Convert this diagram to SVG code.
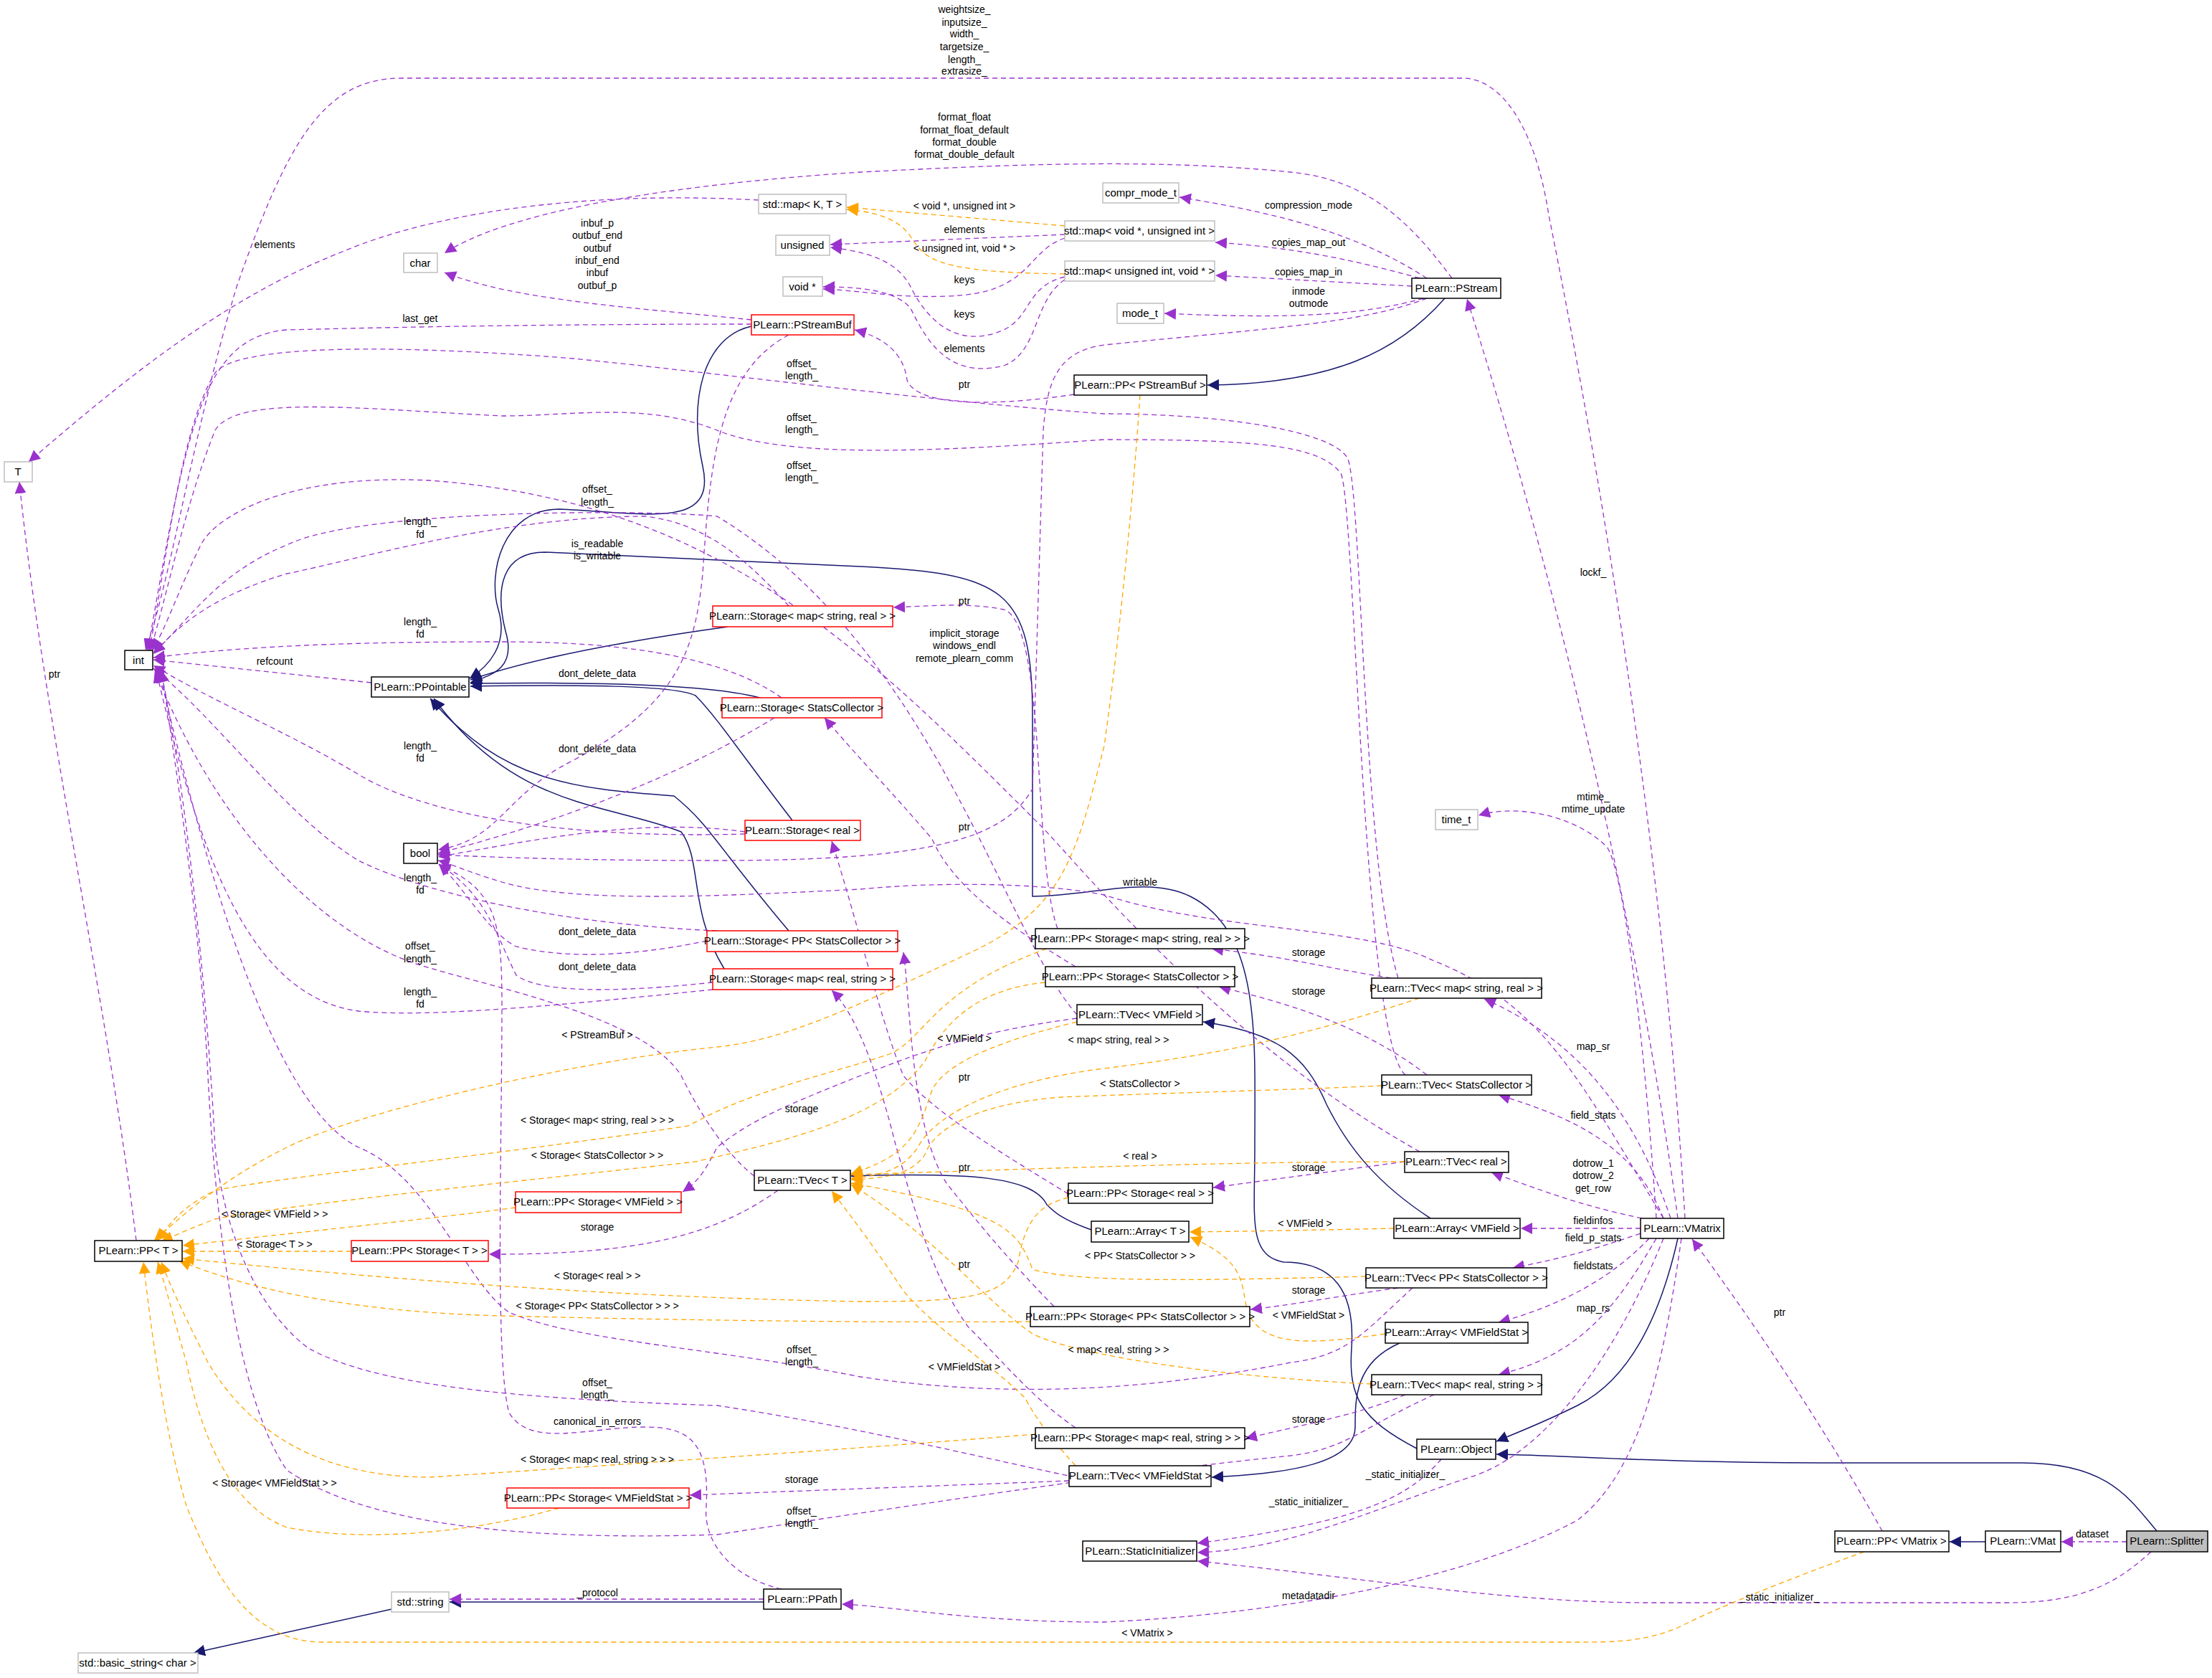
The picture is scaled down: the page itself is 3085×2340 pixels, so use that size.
<svg xmlns="http://www.w3.org/2000/svg" width="3085" height="2340" viewBox="0 0 3085 2340">
<style>
text{font-family:"Liberation Sans",Arial,sans-serif;text-anchor:middle}
.t{font-size:15px}
.l{font-size:14px}
.b{fill:#fff;stroke:#000;stroke-width:1.5}
.r{fill:#fff;stroke:#f00;stroke-width:1.5}
.g{fill:#fff;stroke:#bfbfbf;stroke-width:1.5}
.s{fill:#bfbfbf;stroke:#000;stroke-width:1.5}
.p{fill:none;stroke:#9a32cd;stroke-width:1.3;stroke-dasharray:7,5;marker-end:url(#mp)}
.o{fill:none;stroke:#ffa500;stroke-width:1.3;stroke-dasharray:7,5;marker-end:url(#mo)}
.n{fill:none;stroke:#191970;stroke-width:1.5;marker-end:url(#mn)}
</style>
<defs>
<marker id="mp" viewBox="0 0 10 10" refX="10" refY="5" markerWidth="16" markerHeight="16" markerUnits="userSpaceOnUse" orient="auto"><path d="M0,0L10,5L0,10z" fill="#9a32cd"/></marker>
<marker id="mo" viewBox="0 0 10 10" refX="10" refY="5" markerWidth="16" markerHeight="16" markerUnits="userSpaceOnUse" orient="auto"><path d="M0,0L10,5L0,10z" fill="#ffa500"/></marker>
<marker id="mn" viewBox="0 0 10 10" refX="10" refY="5" markerWidth="16" markerHeight="16" markerUnits="userSpaceOnUse" orient="auto"><path d="M0,0L10,5L0,10z" fill="#191970"/></marker>
</defs>
<rect width="3085" height="2340" fill="#fff"/>
<g id="connectors">
<path class="n" d="M1048,455 C980,470 960,560 980,650 C1000,740 900,715 780,710 C700,710 680,800 695,850 C710,900 680,930 655,946"/>
<path class="n" d="M1015,874 C900,890 750,915 656,948"/>
<path class="n" d="M1075,978 C1030,960 900,950 656,953"/>
<path class="n" d="M1105,1144 C1040,1060 1000,1000 970,970 C940,955 800,955 656,957"/>
<path class="n" d="M1100,1298 C1000,1180 990,1150 940,1110 C800,1100 700,1090 600,974"/>
<path class="n" d="M1010,1351 C960,1270 980,1200 950,1160 C850,1120 720,1130 605,974"/>
<path class="n" d="M1976,2020 C1900,1980 1880,1950 1885,1880 C1890,1800 1860,1760 1790,1760 C1740,1750 1750,1700 1750,1600 C1750,1450 1760,1300 1660,1250 C1600,1220 1520,1250 1440,1250 L1440,1000 C1440,820 1400,800 1200,790 L760,770 C700,770 690,820 705,880 C720,930 690,940 656,952"/>
<path class="n" d="M2015,416 C1950,490 1860,535 1684,537"/>
<path class="n" d="M1995,1699 C1920,1650 1880,1600 1850,1540 C1820,1470 1780,1440 1678,1425"/>
<path class="n" d="M1522,1715 C1480,1700 1470,1690 1460,1680 C1440,1640 1350,1635 1187,1640"/>
<path class="n" d="M1952,1873 C1890,1900 1890,1950 1890,1990 C1890,2040 1800,2055 1690,2060"/>
<path class="n" d="M2340,1727 C2310,1860 2260,1930 2200,1960 C2150,1985 2110,2000 2087,2010"/>
<path class="n" d="M3008,2135 C2970,2090 2940,2040 2820,2040 L2560,2040 C2300,2040 2200,2030 2087,2028"/>
<path class="n" d="M2769,2150 L2719,2150"/>
<path class="n" d="M546,2244 L270,2305"/>
<path class="n" d="M1065,2234 L627,2234"/>

<path class="p" d="M2350,1699 C2320,1200 2240,700 2160,300 C2140,170 2090,109 2040,109 L560,109 C450,109 400,200 330,400 C270,600 240,800 203,907"/>
<path class="p" d="M2025,388 C1960,300 1900,250 1800,240 C1600,220 1400,230 1200,240 C900,260 700,300 620,353"/>
<path class="p" d="M1058,279 C800,265 600,300 480,350 C300,420 150,550 40,644"/>
<path class="p" d="M1048,446 C900,430 720,420 620,380"/>
<path class="p" d="M1048,452 C800,452 600,455 400,460 C280,470 260,600 206,907"/>
<path class="p" d="M1485,327 L1158,341"/>
<path class="o" d="M1485,315 L1181,289"/>
<path class="o" d="M1485,382 C1300,380 1290,360 1270,330 C1250,300 1210,295 1181,292"/>
<path class="p" d="M1485,332 C1430,350 1440,410 1320,413 C1250,416 1200,405 1148,403"/>
<path class="p" d="M1485,386 C1430,400 1440,440 1400,460 C1330,490 1290,440 1270,400 C1250,360 1200,350 1158,345"/>
<path class="p" d="M1485,390 C1440,420 1450,490 1400,510 C1320,530 1290,470 1270,430 C1250,405 1200,400 1148,400"/>
<path class="p" d="M1498,550 C1400,565 1280,570 1265,530 C1260,490 1230,470 1192,460"/>
<path class="p" d="M1990,388 C1900,330 1800,300 1645,275"/>
<path class="p" d="M1980,388 C1880,360 1800,345 1695,338"/>
<path class="p" d="M1969,399 L1695,384"/>
<path class="p" d="M1985,416 C1900,440 1800,445 1624,437"/>
<path class="p" d="M1990,416 C1900,450 1800,455 1540,481 C1470,490 1460,540 1455,600 L1440,1100 C1400,1170 1300,1200 1000,1200 C800,1200 680,1195 611,1192"/>
<path class="p" d="M1100,467 C1000,520 990,650 980,800 C970,900 950,980 800,1060 C700,1110 700,1170 611,1185"/>
<path class="p" d="M1950,1364 C1900,1200 1900,700 1880,640 C1860,600 1700,577 1540,577 C1300,560 1000,520 800,500 C550,480 330,480 300,520 C250,600 230,800 208,907"/>
<path class="p" d="M1960,1499 C1900,1450 1890,700 1870,660 C1840,620 1750,613 1540,613 C1300,630 1100,640 1000,600 C900,560 800,580 700,580 C500,570 330,550 300,600 C260,700 240,800 210,907"/>
<path class="p" d="M1980,1606 C1700,1450 1500,1200 1450,1150 C1200,900 1000,700 600,670 C400,660 300,720 280,760 C250,820 230,880 212,907"/>
<path class="p" d="M1502,1415 C1400,1300 1300,900 1000,720 C900,710 500,710 400,760 C300,800 260,870 214,910"/>
<path class="p" d="M1100,845 C1050,790 990,730 900,720 C700,720 500,780 400,800 C300,830 250,870 214,912"/>
<path class="p" d="M1090,973 C1000,910 850,895 700,895 C500,895 350,900 214,917"/>
<path class="p" d="M518,952 L214,920"/>
<path class="p" d="M1080,1001 C950,1080 800,1140 611,1190"/>
<path class="p" d="M1475,1295 C1440,1200 1460,870 1400,850 C1350,840 1300,845 1246,847"/>
<path class="p" d="M1039,1163 C800,1170 600,1140 500,1080 C400,1020 300,980 214,928"/>
<path class="p" d="M1039,1160 C900,1140 750,1170 611,1195"/>
<path class="p" d="M1500,1348 C1420,1300 1330,1240 1300,1170 C1240,1100 1200,1060 1150,1001"/>
<path class="p" d="M2320,1699 C2200,1500 2150,1400 2000,1340 C1900,1290 1700,1300 1540,1248 C1450,1230 1300,1230 1200,1240 C1000,1250 800,1260 700,1230 C650,1215 630,1205 611,1200"/>
<path class="p" d="M1000,1298 C800,1290 600,1250 500,1200 C400,1140 300,1000 214,932"/>
<path class="p" d="M986,1312 C900,1330 800,1340 720,1320 C680,1300 650,1240 612,1205"/>
<path class="p" d="M1052,1640 C1000,1600 960,1520 950,1500 C900,1420 700,1380 600,1350 C450,1310 300,1150 216,934"/>
<path class="p" d="M994,1370 C900,1380 760,1390 720,1360 C690,1300 680,1250 612,1205"/>
<path class="p" d="M994,1380 C800,1400 600,1420 500,1410 C350,1390 280,1200 218,936"/>
<path class="p" d="M1502,1420 C1350,1440 1280,1470 1200,1500 C1100,1540 1050,1560 1000,1600 C980,1640 970,1650 952,1662"/>
<path class="p" d="M1085,1660 C1000,1720 900,1750 682,1749"/>
<path class="p" d="M1490,1665 C1400,1610 1300,1550 1260,1500 C1230,1430 1200,1300 1160,1173"/>
<path class="p" d="M1959,1620 L1692,1656"/>
<path class="p" d="M1940,1364 C1850,1350 1800,1335 1690,1323"/>
<path class="p" d="M1990,1499 C1900,1430 1800,1400 1700,1376"/>
<path class="p" d="M1470,1822 C1400,1750 1360,1700 1320,1650 C1270,1570 1270,1400 1260,1328"/>
<path class="p" d="M1950,1796 C1850,1810 1800,1820 1744,1826"/>
<path class="p" d="M1970,1796 C1900,1860 1880,1890 1800,1900 C1600,1940 1400,1950 1200,1920 C1000,1880 800,1870 710,1830 C650,1790 600,1640 500,1600 C420,1560 330,1400 222,936"/>
<path class="p" d="M1500,2060 C1400,2040 1200,1990 1000,1960 C700,1950 520,1930 430,1880 C350,1820 310,1700 300,1600 C290,1400 260,1100 224,934"/>
<path class="p" d="M1960,1945 C1900,1970 1850,1980 1737,2006"/>
<path class="p" d="M1500,1991 C1440,1950 1400,1900 1350,1850 C1300,1780 1280,1700 1250,1600 C1230,1520 1200,1420 1160,1381"/>
<path class="p" d="M1090,2216 C1020,2200 980,2150 985,2100 C990,2010 960,1990 900,1990 C820,1990 740,2020 710,1970 C690,1900 700,1600 700,1400 C700,1280 690,1240 612,1206"/>
<path class="p" d="M1491,2065 L962,2085"/>
<path class="p" d="M2010,2035 C1970,2080 1920,2120 1670,2152"/>
<path class="p" d="M2000,1945 C1900,1990 1880,2020 1800,2030 C1600,2050 1400,2080 1000,2140 C700,2150 500,2120 400,2050 C330,1950 300,1700 290,1500 C280,1300 250,1100 225,934"/>
<path class="p" d="M2320,1727 C2250,1900 2150,2030 2050,2060 C1900,2110 1800,2160 1670,2165"/>
<path class="p" d="M2345,1727 C2320,1900 2290,2050 2200,2120 C2050,2200 1800,2250 1540,2262 C1350,2262 1250,2240 1174,2237"/>
<path class="p" d="M1065,2230 L627,2230"/>
<path class="p" d="M3000,2164 C2950,2210 2900,2235 2800,2235 L2300,2235 C2100,2235 1900,2200 1670,2177"/>
<path class="p" d="M2966,2150 L2875,2150"/>
<path class="p" d="M2625,2135 C2550,2000 2450,1850 2360,1728"/>
<path class="p" d="M190,1730 C150,1400 60,1000 27,672"/>
<path class="p" d="M2340,1699 C2300,1400 2200,900 2046,417"/>
<path class="p" d="M2310,1699 C2290,1400 2260,1200 2240,1180 C2200,1140 2120,1120 2062,1137"/>
<path class="p" d="M2330,1699 C2280,1550 2200,1450 2070,1393"/>
<path class="p" d="M2320,1699 C2280,1600 2200,1560 2090,1527"/>
<path class="p" d="M2290,1699 C2200,1680 2150,1660 2080,1635"/>
<path class="p" d="M2288,1713 L2121,1713"/>
<path class="p" d="M2288,1720 C2230,1740 2180,1755 2110,1768"/>
<path class="p" d="M2300,1727 C2250,1780 2180,1820 2090,1844"/>
<path class="p" d="M2310,1727 C2250,1830 2200,1890 2090,1917"/>

<path class="o" d="M1590,551 C1580,700 1560,900 1540,1040 C1500,1200 1480,1270 1350,1330 C1200,1400 1100,1450 1000,1460 C800,1480 500,1550 400,1600 C300,1650 250,1700 215,1730"/>
<path class="o" d="M1460,1323 C1300,1380 1290,1450 1240,1470 C1150,1500 1050,1520 960,1570 C700,1610 400,1640 300,1660 C260,1680 240,1700 220,1730"/>
<path class="o" d="M1458,1370 C1350,1380 1310,1440 1290,1480 C1230,1560 1100,1590 970,1620 C700,1650 400,1680 300,1700 C260,1715 240,1725 225,1731"/>
<path class="o" d="M1502,1425 C1400,1450 1320,1480 1300,1520 C1280,1580 1270,1610 1187,1637"/>
<path class="o" d="M1980,1392 C1800,1450 1700,1470 1540,1490 C1380,1510 1300,1560 1280,1600 C1260,1630 1230,1640 1187,1643"/>
<path class="o" d="M1927,1514 C1800,1520 1600,1525 1480,1530 C1350,1540 1300,1580 1290,1610 C1270,1640 1230,1643 1187,1645"/>
<path class="o" d="M1959,1620 C1700,1620 1450,1630 1187,1638"/>
<path class="o" d="M719,1684 C600,1700 400,1720 255,1737"/>
<path class="o" d="M490,1745 L255,1745"/>
<path class="o" d="M1944,1713 C1850,1715 1750,1717 1659,1718"/>
<path class="o" d="M1905,1780 C1700,1785 1500,1790 1440,1770 C1420,1720 1410,1690 1187,1650"/>
<path class="o" d="M1490,1670 C1450,1680 1430,1700 1420,1760 C1400,1810 1350,1815 1200,1815 C900,1810 600,1790 255,1755"/>
<path class="o" d="M1932,1860 C1800,1880 1760,1870 1740,1830 C1730,1790 1740,1760 1660,1725"/>
<path class="o" d="M1437,1843 C1200,1845 900,1840 700,1835 C500,1830 350,1800 250,1758"/>
<path class="o" d="M1913,1930 C1700,1920 1500,1890 1440,1860 C1380,1820 1300,1720 1187,1652"/>
<path class="o" d="M1500,2044 C1460,2000 1440,1970 1430,1950 C1380,1900 1300,1850 1260,1800 C1220,1740 1190,1700 1160,1661"/>
<path class="o" d="M1444,2000 C1200,2020 900,2040 600,2060 C450,2060 350,2000 290,1900 C260,1840 240,1800 225,1760"/>
<path class="o" d="M780,2103 C650,2140 500,2150 400,2130 C320,2100 280,2000 260,1900 C240,1830 230,1790 220,1760"/>
<path class="o" d="M2600,2164 C2500,2200 2400,2240 2350,2265 C2300,2290 2250,2290 2200,2290 L450,2290 C350,2290 300,2200 260,2100 C230,2000 210,1850 200,1760"/>
</g>
<g id="labels" class="l">
<text x="1345" y="18">weightsize_</text><text x="1345" y="36">inputsize_</text><text x="1345" y="52">width_</text><text x="1345" y="70">targetsize_</text><text x="1345" y="88">length_</text><text x="1345" y="104">extrasize_</text>
<text x="1345" y="168">format_float</text><text x="1345" y="186">format_float_default</text><text x="1345" y="203">format_double</text><text x="1345" y="220">format_double_default</text>
<text x="383" y="346">elements</text>
<text x="833" y="316">inbuf_p</text><text x="833" y="333">outbuf_end</text><text x="833" y="351">outbuf</text><text x="833" y="368">inbuf_end</text><text x="833" y="385">inbuf</text><text x="833" y="403">outbuf_p</text>
<text x="586" y="449">last_get</text>
<text x="1345" y="292">&lt; void *, unsigned int &gt;</text>
<text x="1345" y="325">elements</text>
<text x="1345" y="351">&lt; unsigned int, void * &gt;</text>
<text x="1345" y="395">keys</text><text x="1345" y="443">keys</text><text x="1345" y="491">elements</text>
<text x="1345" y="541">ptr</text>
<text x="1825" y="291">compression_mode</text><text x="1825" y="343">copies_map_out</text><text x="1825" y="384">copies_map_in</text>
<text x="1825" y="411">inmode</text><text x="1825" y="428">outmode</text>
<text x="1118" y="512">offset_</text><text x="1118" y="529">length_</text>
<text x="1118" y="587">offset_</text><text x="1118" y="604">length_</text>
<text x="1118" y="654">offset_</text><text x="1118" y="671">length_</text>
<text x="833" y="687">offset_</text><text x="833" y="705">length_</text>
<text x="586" y="732">length_</text><text x="586" y="750">fd</text>
<text x="833" y="763">is_readable</text><text x="833" y="780">is_writable</text>
<text x="586" y="872">length_</text><text x="586" y="889">fd</text>
<text x="383" y="927">refcount</text>
<text x="833" y="944">dont_delete_data</text>
<text x="1345" y="843">ptr</text>
<text x="1345" y="888">implicit_storage</text><text x="1345" y="905">windows_endl</text><text x="1345" y="923">remote_plearn_comm</text>
<text x="586" y="1045">length_</text><text x="586" y="1062">fd</text>
<text x="833" y="1049">dont_delete_data</text>
<text x="1345" y="1158">ptr</text>
<text x="2222" y="803">lockf_</text>
<text x="2222" y="1116">mtime_</text><text x="2222" y="1133">mtime_update</text>
<text x="1590" y="1235">writable</text>
<text x="586" y="1229">length_</text><text x="586" y="1246">fd</text>
<text x="833" y="1304">dont_delete_data</text>
<text x="586" y="1324">offset_</text><text x="586" y="1342">length_</text>
<text x="833" y="1353">dont_delete_data</text>
<text x="586" y="1388">length_</text><text x="586" y="1405">fd</text>
<text x="1825" y="1333">storage</text><text x="1825" y="1387">storage</text>
<text x="833" y="1448">&lt; PStreamBuf &gt;</text>
<text x="1345" y="1453">&lt; VMField &gt;</text>
<text x="1560" y="1455">&lt; map&lt; string, real &gt; &gt;</text>
<text x="2222" y="1464">map_sr</text>
<text x="1345" y="1507">ptr</text>
<text x="1590" y="1516">&lt; StatsCollector &gt;</text>
<text x="1118" y="1551">storage</text>
<text x="2222" y="1560">field_stats</text>
<text x="833" y="1567">&lt; Storage&lt; map&lt; string, real &gt; &gt; &gt;</text>
<text x="833" y="1616">&lt; Storage&lt; StatsCollector &gt; &gt;</text>
<text x="1590" y="1617">&lt; real &gt;</text>
<text x="1345" y="1633">ptr</text>
<text x="1825" y="1633">storage</text>
<text x="2222" y="1627">dotrow_1</text><text x="2222" y="1644">dotrow_2</text><text x="2222" y="1662">get_row</text>
<text x="383" y="1698">&lt; Storage&lt; VMField &gt; &gt;</text>
<text x="2222" y="1707">fieldinfos</text>
<text x="1820" y="1711">&lt; VMField &gt;</text>
<text x="833" y="1716">storage</text>
<text x="2222" y="1731">field_p_stats</text>
<text x="383" y="1740">&lt; Storage&lt; T &gt; &gt;</text>
<text x="1590" y="1756">&lt; PP&lt; StatsCollector &gt; &gt;</text>
<text x="1345" y="1768">ptr</text>
<text x="2222" y="1770">fieldstats</text>
<text x="833" y="1784">&lt; Storage&lt; real &gt; &gt;</text>
<text x="1825" y="1804">storage</text>
<text x="833" y="1826">&lt; Storage&lt; PP&lt; StatsCollector &gt; &gt; &gt;</text>
<text x="2222" y="1829">map_rs</text>
<text x="2482" y="1835">ptr</text>
<text x="1825" y="1839">&lt; VMFieldStat &gt;</text>
<text x="1118" y="1887">offset_</text><text x="1118" y="1904">length_</text>
<text x="1560" y="1887">&lt; map&lt; real, string &gt; &gt;</text>
<text x="1345" y="1911">&lt; VMFieldStat &gt;</text>
<text x="833" y="1933">offset_</text><text x="833" y="1950">length_</text>
<text x="1825" y="1984">storage</text>
<text x="833" y="1987">canonical_in_errors</text>
<text x="833" y="2040">&lt; Storage&lt; map&lt; real, string &gt; &gt; &gt;</text>
<text x="1960" y="2061">_static_initializer_</text>
<text x="1118" y="2068">storage</text>
<text x="383" y="2073">&lt; Storage&lt; VMFieldStat &gt; &gt;</text>
<text x="1825" y="2099">_static_initializer_</text>
<text x="1118" y="2112">offset_</text><text x="1118" y="2129">length_</text>
<text x="2918" y="2144">dataset</text>
<text x="833" y="2226">_protocol</text>
<text x="1825" y="2230">metadatadir</text>
<text x="2482" y="2232">_static_initializer_</text>
<text x="1600" y="2282">&lt; VMatrix &gt;</text>
<text x="76" y="945">ptr</text>
</g>
<g id="n_T"><rect class="g" x="6" y="644" width="39" height="28"/><text class="t" x="25" y="663">T</text></g>
<g id="n_int"><rect class="b" x="174" y="907" width="39" height="27"/><text class="t" x="193" y="926">int</text></g>
<g id="n_char"><rect class="g" x="563" y="353" width="47" height="27"/><text class="t" x="586" y="372">char</text></g>
<g id="n_mapKT"><rect class="g" x="1058" y="271" width="122" height="27"/><text class="t" x="1119" y="290">std::map&lt; K, T &gt;</text></g>
<g id="n_unsigned"><rect class="g" x="1082" y="328" width="75" height="28"/><text class="t" x="1119" y="347">unsigned</text></g>
<g id="n_void"><rect class="g" x="1092" y="386" width="55" height="27"/><text class="t" x="1119" y="405">void *</text></g>
<g id="n_PStreamBuf"><rect class="r" x="1048" y="439" width="143" height="28"/><text class="t" x="1119" y="458">PLearn::PStreamBuf</text></g>
<g id="n_PPointable"><rect class="b" x="518" y="944" width="136" height="28"/><text class="t" x="586" y="963">PLearn::PPointable</text></g>
<g id="n_Smsr"><rect class="r" x="994" y="845" width="251" height="29"/><text class="t" x="1119" y="864">PLearn::Storage&lt; map&lt; string, real &gt; &gt;</text></g>
<g id="n_SSC"><rect class="r" x="1007" y="973" width="223" height="28"/><text class="t" x="1118" y="992">PLearn::Storage&lt; StatsCollector &gt;</text></g>
<g id="n_Sreal"><rect class="r" x="1039" y="1144" width="161" height="28"/><text class="t" x="1119" y="1163">PLearn::Storage&lt; real &gt;</text></g>
<g id="n_compr"><rect class="g" x="1538" y="255" width="106" height="28"/><text class="t" x="1591" y="274">compr_mode_t</text></g>
<g id="n_mapVU"><rect class="g" x="1485" y="308" width="209" height="28"/><text class="t" x="1589" y="327">std::map&lt; void *, unsigned int &gt;</text></g>
<g id="n_mapUV"><rect class="g" x="1485" y="364" width="209" height="28"/><text class="t" x="1589" y="383">std::map&lt; unsigned int, void * &gt;</text></g>
<g id="n_mode"><rect class="g" x="1558" y="423" width="65" height="28"/><text class="t" x="1590" y="442">mode_t</text></g>
<g id="n_PStream"><rect class="b" x="1969" y="388" width="124" height="28"/><text class="t" x="2031" y="407">PLearn::PStream</text></g>
<g id="n_PPPSB"><rect class="b" x="1498" y="523" width="185" height="28"/><text class="t" x="1590" y="542">PLearn::PP&lt; PStreamBuf &gt;</text></g>
<g id="n_time"><rect class="g" x="2002" y="1129" width="59" height="28"/><text class="t" x="2031" y="1148">time_t</text></g>
<g id="n_bool"><rect class="b" x="563" y="1176" width="47" height="28"/><text class="t" x="586" y="1195">bool</text></g>
<g id="n_SPPSC"><rect class="r" x="986" y="1298" width="266" height="29"/><text class="t" x="1119" y="1317">PLearn::Storage&lt; PP&lt; StatsCollector &gt; &gt;</text></g>
<g id="n_Smrs"><rect class="r" x="994" y="1351" width="251" height="29"/><text class="t" x="1119" y="1370">PLearn::Storage&lt; map&lt; real, string &gt; &gt;</text></g>
<g id="n_PPSVMF"><rect class="r" x="719" y="1662" width="231" height="29"/><text class="t" x="834" y="1681">PLearn::PP&lt; Storage&lt; VMField &gt; &gt;</text></g>
<g id="n_PPT"><rect class="b" x="132" y="1730" width="122" height="29"/><text class="t" x="193" y="1749">PLearn::PP&lt; T &gt;</text></g>
<g id="n_PPST"><rect class="r" x="490" y="1730" width="191" height="29"/><text class="t" x="585" y="1749">PLearn::PP&lt; Storage&lt; T &gt; &gt;</text></g>
<g id="n_TVecT"><rect class="b" x="1052" y="1632" width="134" height="28"/><text class="t" x="1119" y="1651">PLearn::TVec&lt; T &gt;</text></g>
<g id="n_PPSVMFS"><rect class="r" x="707" y="2075" width="254" height="28"/><text class="t" x="834" y="2094">PLearn::PP&lt; Storage&lt; VMFieldStat &gt; &gt;</text></g>
<g id="n_string"><rect class="g" x="546" y="2220" width="80" height="28"/><text class="t" x="586" y="2239">std::string</text></g>
<g id="n_PPath"><rect class="b" x="1065" y="2216" width="108" height="28"/><text class="t" x="1119" y="2235">PLearn::PPath</text></g>
<g id="n_basic"><rect class="g" x="109" y="2305" width="167" height="28"/><text class="t" x="192" y="2324">std::basic_string&lt; char &gt;</text></g>
<g id="n_PPSmsr"><rect class="b" x="1444" y="1295" width="292" height="28"/><text class="t" x="1590" y="1314">PLearn::PP&lt; Storage&lt; map&lt; string, real &gt; &gt; &gt;</text></g>
<g id="n_PPSSC"><rect class="b" x="1458" y="1348" width="264" height="28"/><text class="t" x="1590" y="1367">PLearn::PP&lt; Storage&lt; StatsCollector &gt; &gt;</text></g>
<g id="n_TVecVMF"><rect class="b" x="1502" y="1401" width="175" height="28"/><text class="t" x="1590" y="1420">PLearn::TVec&lt; VMField &gt;</text></g>
<g id="n_PPSreal"><rect class="b" x="1490" y="1650" width="201" height="28"/><text class="t" x="1590" y="1669">PLearn::PP&lt; Storage&lt; real &gt; &gt;</text></g>
<g id="n_ArrayT"><rect class="b" x="1522" y="1703" width="136" height="29"/><text class="t" x="1590" y="1722">PLearn::Array&lt; T &gt;</text></g>
<g id="n_PPSPPSC"><rect class="b" x="1437" y="1822" width="306" height="28"/><text class="t" x="1590" y="1841">PLearn::PP&lt; Storage&lt; PP&lt; StatsCollector &gt; &gt; &gt;</text></g>
<g id="n_PPSmrs"><rect class="b" x="1444" y="1991" width="292" height="29"/><text class="t" x="1590" y="2010">PLearn::PP&lt; Storage&lt; map&lt; real, string &gt; &gt; &gt;</text></g>
<g id="n_TVecVMFS"><rect class="b" x="1491" y="2044" width="198" height="29"/><text class="t" x="1590" y="2063">PLearn::TVec&lt; VMFieldStat &gt;</text></g>
<g id="n_StaticInit"><rect class="b" x="1510" y="2149" width="159" height="28"/><text class="t" x="1590" y="2168">PLearn::StaticInitializer</text></g>
<g id="n_TVecmsr"><rect class="b" x="1913" y="1364" width="237" height="28"/><text class="t" x="2031" y="1383">PLearn::TVec&lt; map&lt; string, real &gt; &gt;</text></g>
<g id="n_TVecSC"><rect class="b" x="1927" y="1499" width="209" height="28"/><text class="t" x="2031" y="1518">PLearn::TVec&lt; StatsCollector &gt;</text></g>
<g id="n_TVecReal"><rect class="b" x="1959" y="1606" width="145" height="29"/><text class="t" x="2031" y="1625">PLearn::TVec&lt; real &gt;</text></g>
<g id="n_ArrVMF"><rect class="b" x="1944" y="1699" width="176" height="28"/><text class="t" x="2032" y="1718">PLearn::Array&lt; VMField &gt;</text></g>
<g id="n_TVecPPSC"><rect class="b" x="1905" y="1768" width="252" height="28"/><text class="t" x="2031" y="1787">PLearn::TVec&lt; PP&lt; StatsCollector &gt; &gt;</text></g>
<g id="n_ArrVMFS"><rect class="b" x="1932" y="1844" width="199" height="29"/><text class="t" x="2031" y="1863">PLearn::Array&lt; VMFieldStat &gt;</text></g>
<g id="n_TVecmrs"><rect class="b" x="1913" y="1917" width="237" height="28"/><text class="t" x="2031" y="1936">PLearn::TVec&lt; map&lt; real, string &gt; &gt;</text></g>
<g id="n_Object"><rect class="b" x="1976" y="2007" width="110" height="28"/><text class="t" x="2031" y="2026">PLearn::Object</text></g>
<g id="n_VMatrix"><rect class="b" x="2288" y="1699" width="116" height="28"/><text class="t" x="2346" y="1718">PLearn::VMatrix</text></g>
<g id="n_PPVM"><rect class="b" x="2559" y="2135" width="159" height="29"/><text class="t" x="2638" y="2154">PLearn::PP&lt; VMatrix &gt;</text></g>
<g id="n_VMat"><rect class="b" x="2769" y="2135" width="105" height="29"/><text class="t" x="2821" y="2154">PLearn::VMat</text></g>
<g id="n_Splitter"><rect class="s" x="2966" y="2135" width="113" height="29"/><text class="t" x="3022" y="2154">PLearn::Splitter</text></g>
</svg>
